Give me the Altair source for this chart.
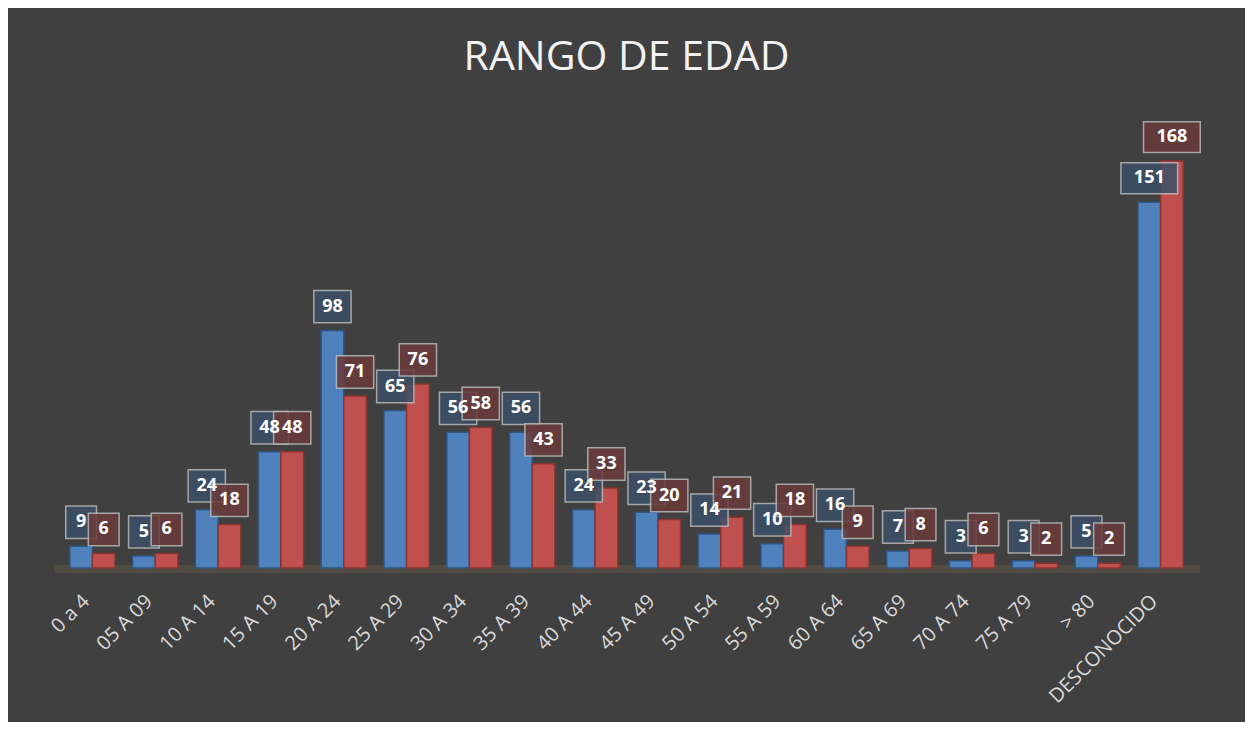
import altair as alt
import pandas as pd

categories = ["0 a 4", "05 A 09", "10 A 14", "15 A 19", "20 A 24", "25 A 29",
              "30 A 34", "35 A 39", "40 A 44", "45 A 49", "50 A 54", "55 A 59",
              "60 A 64", "65 A 69", "70 A 74", "75 A 79", "> 80", "DESCONOCIDO"]
serie1 = [9, 5, 24, 48, 98, 65, 56, 56, 24, 23, 14, 10, 16, 7, 3, 3, 5, 151]
serie2 = [6, 6, 18, 48, 71, 76, 58, 43, 33, 20, 21, 18, 9, 8, 6, 2, 2, 168]
series = ["Serie 1", "Serie 2"]

rows = []
for c, a, b in zip(categories, serie1, serie2):
    rows.append({"cat": c, "serie": series[0], "val": a, "digits": len(str(a))})
    rows.append({"cat": c, "serie": series[1], "val": b, "digits": len(str(b))})
df = pd.DataFrame(rows)

W, H = 1131, 436
xs = alt.X("cat:N", sort=categories, title=None,
           scale=alt.Scale(paddingInner=0.28, paddingOuter=0.14),
           axis=alt.Axis(labelAngle=-45, labelColor="#d9d9d9", labelFontSize=20,
                         labelFont="Open Sans", domain=False, ticks=False,
                         labelPadding=30, labelOffset=-6, labelAlign="right",
                         labelBaseline="middle"))
ys = alt.Y("val:Q", scale=alt.Scale(domain=[0, 180]), axis=None)
xo = alt.XOffset("serie:N", sort=series)

base = alt.Chart(df)
bar_colors = {series[0]: ("#4f81bd", "#2f5583", "#3c5068"),
              series[1]: ("#c0504d", "#8a3532", "#6b3b3b")}
box_shapes = {1: "M-0.95,-1H0.95V1H-0.95Z", 2: "M-1.15,-1H1.15V1H-1.15Z", 3: "M-1.75,-0.95H1.75V0.95H-1.75Z"}

floor = base.mark_rule(color="#504c43", strokeWidth=8).encode(
    x=alt.value(-6), x2=alt.value(W + 8), y=alt.value(H + 1))

layers = [floor]
for s in series:
    fill, stroke, box = bar_colors[s]
    layers.append(base.transform_filter(alt.datum.serie == s).mark_bar(
        color=fill, stroke=stroke, strokeWidth=1.5).encode(x=xs, xOffset=xo, y=ys))
for s in series:
    fill, stroke, box = bar_colors[s]
    for d, path in box_shapes.items():
        layers.append(base.transform_filter((alt.datum.serie == s) & (alt.datum.digits == d)).mark_point(
            shape=path, size=1050, filled=True, color=box, opacity=0.85,
            stroke="#b8b8b8", strokeWidth=1.5, yOffset=-24).encode(
            x=xs, xOffset=xo, y=ys))

labels = base.mark_text(font="Open Sans", fontWeight="bold", fontSize=18,
                        color="#ffffff", dy=-24, baseline="middle").encode(
    x=xs, xOffset=xo, y=ys, text="val:Q")
layers.append(labels)

chart = alt.layer(*layers).properties(
    width=W, height=H,
    title=alt.TitleParams("RANGO DE EDAD", font="Open Sans", fontSize=41, fontWeight="normal",
                          color="#f2f2f2", anchor="middle", offset=40),
    autosize=alt.AutoSizeParams(type="none"),
    padding={"left": 53, "right": 53, "top": 124, "bottom": 154},
).configure(background="#404040").configure_view(strokeWidth=0)

chart.save("out.html", embed_options={"renderer": "svg", "actions": False})
